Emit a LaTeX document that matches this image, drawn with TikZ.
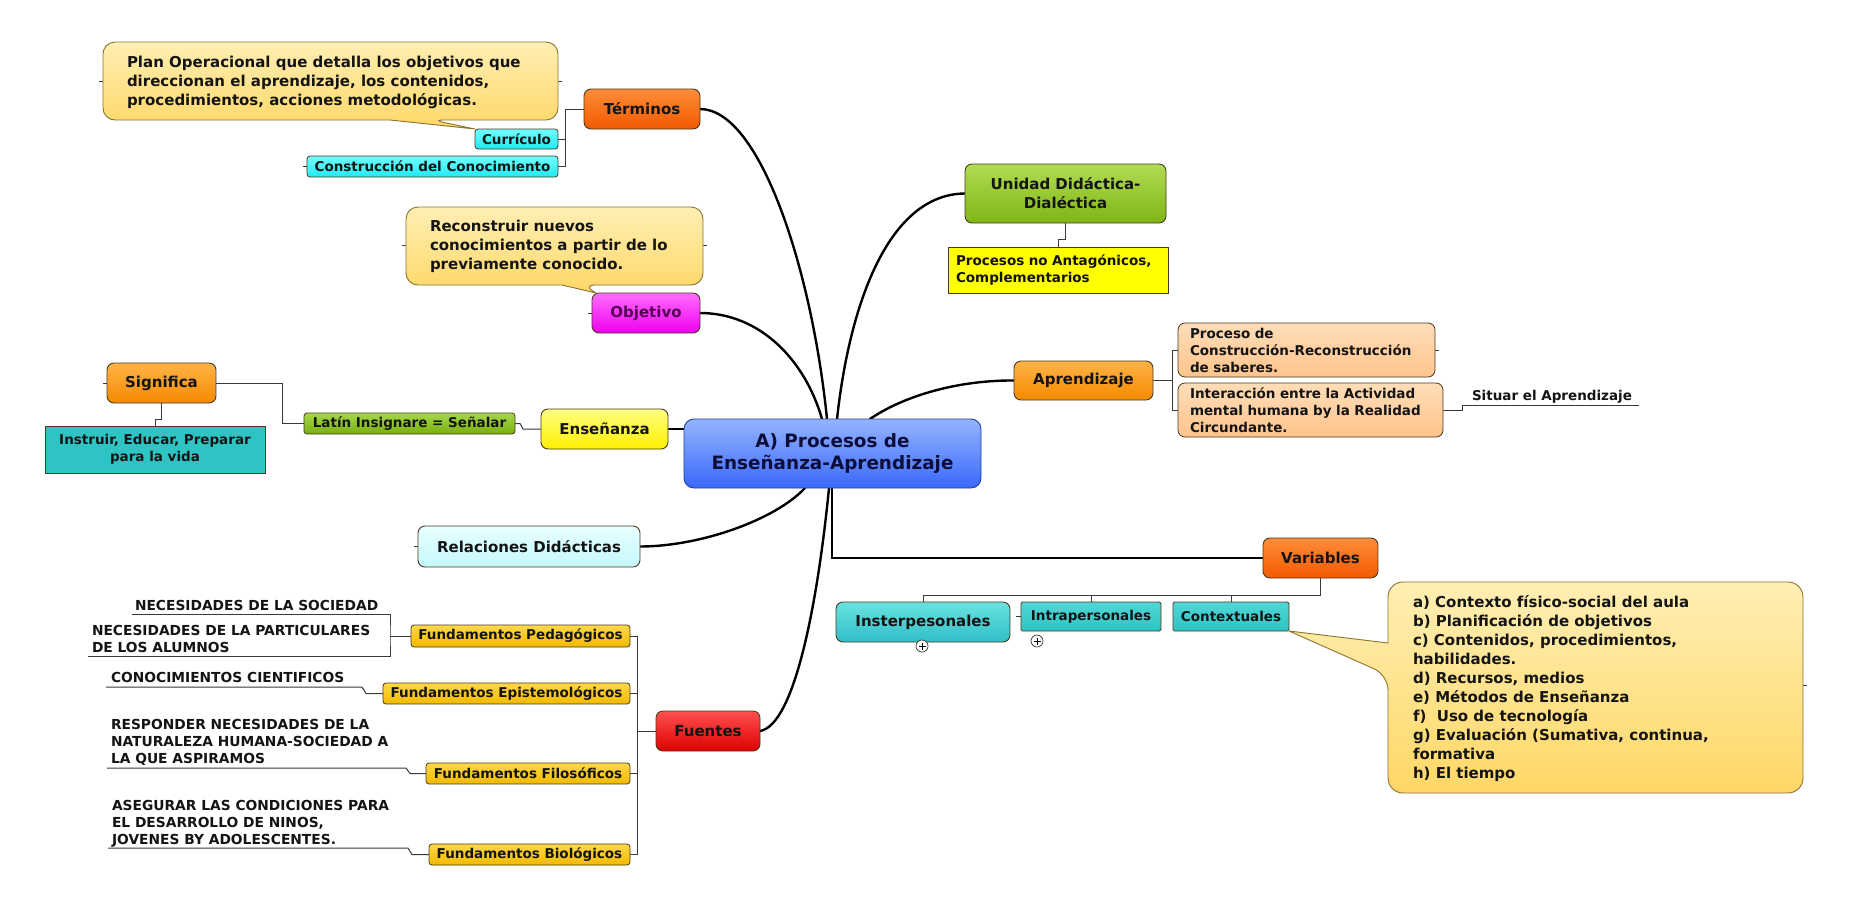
\documentclass[tikz,border=0pt]{standalone}
\usepackage{fontspec}
\setmainfont{DejaVu Sans}[BoldFont={DejaVu Sans Bold}]
\usetikzlibrary{calc,backgrounds}
\newcommand{\fsL}{\fontsize{15}{19}\selectfont\bfseries}
\newcommand{\fsM}{\fontsize{13.5}{17}\selectfont\bfseries}
\newcommand{\fsC}{\fontsize{18.4}{22}\selectfont\bfseries}
\newcommand{\fsN}{\fontsize{13.8}{17}\selectfont\bfseries}
\definecolor{txt}{HTML}{141414}
\definecolor{bord}{HTML}{4A3A20}
\definecolor{lineG}{HTML}{3A3A3A}
\definecolor{ctrT}{HTML}{94B4FF}\definecolor{ctrB}{HTML}{3A68FA}\definecolor{ctrD}{HTML}{20409A}\definecolor{ctrX}{HTML}{0D0D3A}
\definecolor{terT}{HTML}{FF8C3A}\definecolor{terB}{HTML}{F25A00}
\definecolor{objT}{HTML}{FF6CFF}\definecolor{objB}{HTML}{EE00EE}\definecolor{objX}{HTML}{550055}
\definecolor{ensT}{HTML}{FFFF80}\definecolor{ensB}{HTML}{FFF000}
\definecolor{relT}{HTML}{E8FFFF}\definecolor{relB}{HTML}{C4F8FC}
\definecolor{uniT}{HTML}{B0DC52}\definecolor{uniB}{HTML}{7FB516}
\definecolor{yel}{HTML}{FFFF00}
\definecolor{aprT}{HTML}{FFB347}\definecolor{aprB}{HTML}{F58A00}
\definecolor{peaT}{HTML}{FFDDB8}\definecolor{peaB}{HTML}{FFC48C}
\definecolor{tealT}{HTML}{6AE2E2}\definecolor{tealB}{HTML}{30BEC6}
\definecolor{callT}{HTML}{FFEFB4}\definecolor{callBo}{HTML}{FFD766}\definecolor{callD}{HTML}{8A7230}
\definecolor{insT}{HTML}{50D6D6}\definecolor{insB}{HTML}{2EC4C4}
\definecolor{latT}{HTML}{A6D84A}\definecolor{latB}{HTML}{78AE12}
\definecolor{cyT}{HTML}{70FFFF}\definecolor{cyB}{HTML}{1EEAF2}
\definecolor{funT}{HTML}{FFD84A}\definecolor{funB}{HTML}{F2B900}
\definecolor{fueT}{HTML}{FF5050}\definecolor{fueB}{HTML}{DD0000}
\tikzset{
  bigbox/.style={anchor=north west, inner sep=0pt, outer sep=0pt, draw=bord, line width=0.9pt, rounded corners=7pt, align=center, text=txt, font=\fsL},
  smallbox/.style={anchor=north west, inner sep=0pt, outer sep=0pt, draw=bord, line width=0.8pt, rounded corners=3pt, align=center, text=txt, font=\fsM},
  note/.style={anchor=base west, inner sep=0pt, outer sep=0pt, text=txt, font=\fsN},
  mainline/.style={line width=2.4pt, black, line cap=round},
  branch/.style={line width=1pt, draw=lineG},
  stub/.style={line width=0.8pt, draw=lineG},
  calloutshape/.style={draw=callD, line width=0.9pt, top color=callT, bottom color=callBo},
  pluscirc/.style={circle, draw=black!80, line width=0.7pt, minimum size=12pt, inner sep=0pt, fill=white},
}
\begin{document}
\begin{tikzpicture}[x=1pt,y=-1pt]
\useasboundingbox (0,0) rectangle (1849,908);

% ---------- callouts ----------
\node[smallbox, minimum width=83, minimum height=20, top color=cyT, bottom color=cyB] (curriculo) at (475,129) {Currículo};
\node[smallbox, minimum width=251, minimum height=21, top color=cyT, bottom color=cyB] (construccion) at (307,156) {Construcción del Conocimiento};
\node[bigbox, minimum width=108, minimum height=40, top color=objT, bottom color=objB, text=objX] (objetivo) at (592,293) {Objetivo};
\node[smallbox, minimum width=116, minimum height=29, rounded corners=1.5pt, top color=insT, bottom color=insB] (contextuales) at (1173,602) {Contextuales};

\path[calloutshape] [rounded corners=12pt] (103,81) |- (558,42) |- (432,120) [sharp corners] -- (curriculo.north west) -- (390,120) [rounded corners=12pt] -- (103,120) -- cycle;
\path[calloutshape] [rounded corners=12pt] (406,245) |- (703,207) |- (583,285) [sharp corners] -- ($(objetivo.north west)+(4,0)$) -- (562,285) [rounded corners=12pt] -- (406,285) -- cycle;
\path[calloutshape] [rounded corners=15pt] (1388,643) |- (1803,582) |- (1388,793) -- (1388,675) [sharp corners] -- (contextuales.south east) -- cycle;

\node[note, font=\fsL] (planT) at (127,67.5) {\vtop{\hbox{Plan Operacional que detalla los objetivos que}\hbox{direccionan el aprendizaje, los contenidos,}\hbox{procedimientos, acciones metodológicas.}}};
\node[note, font=\fsL] (objT) at (430,231.5) {\vtop{\hbox{Reconstruir nuevos}\hbox{conocimientos a partir de lo}\hbox{previamente conocido.}}};
\node[note, font=\fsL] (varT) at (1413,607) {\vtop{\hbox{a) Contexto físico-social del aula}\hbox{b) Planificación de objetivos}\hbox{c) Contenidos, procedimientos,}\hbox{habilidades.}\hbox{d) Recursos, medios}\hbox{e) Métodos de Enseñanza}\hbox{f)\ \ Uso de tecnología}\hbox{g) Evaluación (Sumativa, continua,}\hbox{formativa}\hbox{h) El tiempo}}};

% ---------- main nodes ----------
\node[bigbox, minimum width=297, minimum height=69, rounded corners=10pt, top color=ctrT, bottom color=ctrB, draw=ctrD, text=ctrX, font=\fsC] (center) at (684,419) {A) Procesos de\\Enseñanza-Aprendizaje};
\node[bigbox, minimum width=116, minimum height=40, top color=terT, bottom color=terB] (terminos) at (584,89) {Términos};
\node[bigbox, minimum width=127, minimum height=40, top color=ensT, bottom color=ensB] (ensenanza) at (541,409) {Enseñanza};
\node[bigbox, minimum width=222, minimum height=41, top color=relT, bottom color=relB] (relaciones) at (418,526) {Relaciones Didácticas};
\node[bigbox, minimum width=201, minimum height=59, top color=uniT, bottom color=uniB] (unidad) at (965,164) {Unidad Didáctica-\\Dialéctica};
\node[smallbox, rounded corners=0pt, minimum width=220, minimum height=46, fill=yel, align=left, text width=204, inner xsep=8pt] (procesos) at (948,247) {Procesos no Antagónicos,\\Complementarios};
\node[bigbox, minimum width=139, minimum height=39, top color=aprT, bottom color=aprB] (aprendizaje) at (1014,361) {Aprendizaje};
\node[smallbox, rounded corners=7pt, minimum width=257, minimum height=54, top color=peaT, bottom color=peaB, align=left, text width=233, inner xsep=12pt] (proceso) at (1178,323) {Proceso de\\Construcción-Reconstrucción\\de saberes.};
\node[smallbox, rounded corners=7pt, minimum width=265, minimum height=54, top color=peaT, bottom color=peaB, align=left, text width=241, inner xsep=12pt] (interaccion) at (1178,383) {Interacción entre la Actividad\\mental humana by la Realidad\\Circundante.};
\node[note, font=\fsM] (situar) at (1472,400) {Situar el Aprendizaje};
\coordinate (situarEnd) at (1639,405);
\node[bigbox, minimum width=115, minimum height=40, top color=terT, bottom color=terB] (variables) at (1263,538) {Variables};
\node[bigbox, minimum width=174, minimum height=40, top color=tealT, bottom color=tealB] (inster) at (836,602) {Insterpesonales};
\node[smallbox, minimum width=140, minimum height=29, rounded corners=1.5pt, top color=insT, bottom color=insB] (intra) at (1021,602) {Intrapersonales};
\node[pluscirc] (plusA) at (922,646) {};
\node[pluscirc] (plusB) at (1037,641) {};
\draw[line width=0.7pt] ($(plusA)+(-3.5,0)$) -- ($(plusA)+(3.5,0)$) ($(plusA)+(0,-3.5)$) -- ($(plusA)+(0,3.5)$);
\draw[line width=0.7pt] ($(plusB)+(-3.5,0)$) -- ($(plusB)+(3.5,0)$) ($(plusB)+(0,-3.5)$) -- ($(plusB)+(0,3.5)$);

\node[bigbox, minimum width=109, minimum height=40, top color=aprT, bottom color=aprB] (significa) at (107,363) {Significa};
\node[smallbox, rounded corners=0pt, minimum width=220, minimum height=47, fill=insB] (instruir) at (45,426) {Instruir, Educar, Preparar\\para la vida};
\node[smallbox, minimum width=211, minimum height=21, top color=latT, bottom color=latB] (latin) at (304,413) {Latín Insignare = Señalar};

\node[bigbox, minimum width=104, minimum height=40, top color=fueT, bottom color=fueB] (fuentes) at (656,711) {Fuentes};
\node[smallbox, minimum width=219, minimum height=22, top color=funT, bottom color=funB] (fped) at (411,625) {Fundamentos Pedagógicos};
\node[smallbox, minimum width=247, minimum height=21, top color=funT, bottom color=funB] (fepi) at (383,683) {Fundamentos Epistemológicos};
\node[smallbox, minimum width=204, minimum height=21, top color=funT, bottom color=funB] (ffil) at (426,763) {Fundamentos Filosóficos};
\node[smallbox, minimum width=201, minimum height=21, top color=funT, bottom color=funB] (fbio) at (429,844) {Fundamentos Biológicos};

\node[note] (n1) at (135,610) {NECESIDADES DE LA SOCIEDAD};
\node[note] (n2) at (92,635) {\vtop{\hbox{NECESIDADES DE LA PARTICULARES}\hbox{DE LOS ALUMNOS}}};
\node[note] (n3) at (111,682) {CONOCIMIENTOS CIENTIFICOS};
\node[note] (n4) at (111,729) {\vtop{\hbox{RESPONDER NECESIDADES DE LA}\hbox{NATURALEZA HUMANA-SOCIEDAD A}\hbox{LA QUE ASPIRAMOS}}};
\node[note] (n5) at (112,810) {\vtop{\hbox{ASEGURAR LAS CONDICIONES PARA}\hbox{EL DESARROLLO DE NINOS,}\hbox{JOVENES BY ADOLESCENTES.}}};
\coordinate (n1a) at (132,614);
\coordinate (n2a) at (88,656);
\coordinate (n3a) at (106,687);
\coordinate (n4a) at (107,768);
\coordinate (n5a) at (108,848);

% ---------- connectors ----------
\begin{scope}[on background layer]
\fill[white] (0,0) rectangle (1849,908);
\draw[mainline] (terminos.east) .. controls +(60,0) and (812,270) .. ($(center.north west)+(143,0)$);
\draw[mainline] (objetivo.east) .. controls +(60,0) and (805,360) .. ($(center.north west)+(138,0)$);
\draw[mainline] ($(center.north west)+(153,0)$) .. controls (850,300) and (890,194) .. (unidad.west);
\draw[mainline] ($(center.north west)+(186,0)$) .. controls (905,395) and (960,380) .. (aprendizaje.west);
\draw[mainline] (relaciones.east) .. controls +(60,0) and (775,520) .. ($(center.south west)+(121,0)$);
\draw[mainline] (fuentes.east) .. controls +(35,-6) and (818,600) .. ($(center.south west)+(145,0)$);
\draw[line width=1.6pt] (ensenanza.east) -- (center.west |- ensenanza.east);
\draw[line width=1.6pt] ($(center.south west)+(148,0)$) |- (variables.west);

\draw[branch] (terminos.west) -- ++(-19,0) |- (curriculo.east);
\draw[branch] (terminos.west) -- ++(-19,0) |- (construccion.east);
\draw[branch] (significa.east) -- ++(66,0) |- (latin.west);
\draw[branch] (significa.south) -- ++(0,16) -| (instruir.north);
\draw[branch] (latin.east) -- ++(5,0) -- ++(3,5.5) -- (ensenanza.west);
\draw[branch] (unidad.south) -- ++(0,16) -| (procesos.north);
\draw[branch] (aprendizaje.east) -- ++(19,0) coordinate (ab);
\draw[branch] (ab) |- (proceso.west);
\draw[branch] (ab) |- (interaccion.west);
\draw[branch] (interaccion.east) -- ++(19,0) -- ++(0,-5) -- (situarEnd);
\draw[branch] (variables.south) -- ++(0,17) -| (inster.north);
\draw[branch] (intra.north) -- ++(0,-7);
\draw[branch] (contextuales.north) -- ++(0,-7);
\draw[branch] (fuentes.west) -- ++(-19,0) coordinate (fb);
\draw[branch] (fb) |- (fped.east);
\draw[branch] (fb) |- (fepi.east);
\draw[branch] (fb) |- (ffil.east);
\draw[branch] (fb) |- (fbio.east);
\draw[branch] (n1a) -| ($(fped.west)+(-21,0)$) |- (n2a);
\draw[branch] (fped.west) -- ++(-21,0);
\draw[branch] (n3a) -- ++(256,0) -- ++(4,6.5) -- (fepi.west);
\draw[branch] (n4a) -- ++(299,0) -- ++(4,5.5) -- (ffil.west);
\draw[branch] (n5a) -- ++(300,0) -- ++(4,6.5) -- (fbio.west);

\draw[stub] (103,81) -- ++(-4,0);
\draw[stub] (558,81) -- ++(4,0);
\draw[stub] (406,245) -- ++(-4,0);
\draw[stub] (703,245) -- ++(4,0);
\draw[stub] (1803,685) -- ++(4,0);
\draw[stub] (objetivo.west) -- ++(-4,0);
\draw[stub] (significa.west) -- ++(-4,0);
\draw[stub] (relaciones.west) -- ++(-4,0);
\draw[stub] (construccion.west) -- ++(-4,0);
\draw[stub] (proceso.east) -- ++(4,0);
\draw[stub] (intra.west) -- ++(-5,0);
\end{scope}
\end{tikzpicture}
\end{document}
